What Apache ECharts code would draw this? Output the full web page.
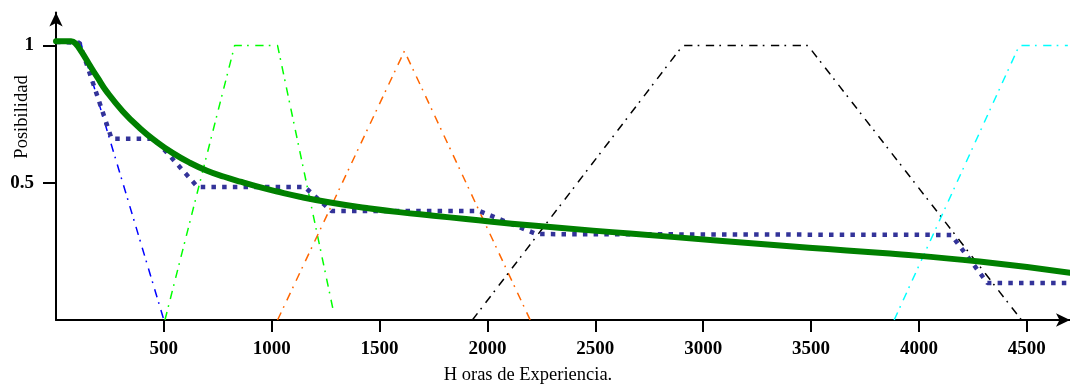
<!DOCTYPE html>
<html>
<head>
<meta charset="utf-8">
<script src="https://cdn.jsdelivr.net/npm/echarts@6/dist/echarts.min.js"></script>
<style>
html,body{margin:0;padding:0;background:#fff;}
#c{width:1070px;height:384px;}
</style>
</head>
<body>
<div id="c"></div>
<script>
// ---- data ----
const xTicks = [500, 1000, 1500, 2000, 2500, 3000, 3500, 4000, 4500];
const yTicks = [0.5, 1];
const xTitle = 'H oras de Experiencia.';
const yTitle = 'Posibilidad';

const blueMF   = [[0, 1.01], [115, 1.01], [500, 0]];
const greenMF  = [[505, 0], [828, 1], [1027, 1], [1285, 0.035]];
const orangeMF = [[1027, 0], [1615, 0.98], [2198, 0]];
const blackMF  = [[1930, 0], [2905, 1], [3485, 1], [4475, 0]];
const cyanMF   = [[3885, 0], [4465, 1], [4690, 1]];

const dottedStep = [[0, 1.013], [109, 1.01], [258, 0.66], [457, 0.66], [656, 0.485], [1152, 0.485],
  [1277, 0.397], [1963, 0.397], [2227, 0.313], [4150, 0.31], [4317, 0.135], [4700, 0.135]];

const fittedCurve = [[0, 1.016], [70, 1.016], [90, 1.008], [120, 0.975], [155, 0.93], [195, 0.88],
  [235, 0.832], [310, 0.76], [390, 0.698], [465, 0.65], [540, 0.609], [620, 0.573], [700, 0.544],
  [780, 0.522], [860, 0.503], [940, 0.485], [1020, 0.469], [1130, 0.449], [1285, 0.426],
  [1440, 0.408], [1590, 0.393], [1750, 0.38], [1900, 0.368], [2210, 0.344], [2660, 0.315],
  [3075, 0.289], [3490, 0.263], [3865, 0.242], [4280, 0.213], [4700, 0.172]];

// ---- chart ----
const FONT = 'Liberation Serif, Times New Roman, serif';
const dashDot = [8.3, 5.2, 1.7, 6.5];

function mf(data, color) {
  return {
    type: 'line', data: data, showSymbol: false, symbol: 'none', silent: true,
    lineStyle: { color: color, width: 1.5, type: dashDot },
    z: 2
  };
}

const chart = echarts.init(document.getElementById('c'), null, { renderer: 'canvas' });
const option = {
  animation: false,
  backgroundColor: '#fff',
  grid: { left: 56, right: 0, top: 12.6, bottom: 64 },
  xAxis: {
    type: 'value', min: 0, max: 4700,
    axisLine: { show: true, onZero: false, symbol: ['none', 'arrow'], symbolSize: [10, 14],
      lineStyle: { color: '#000', width: 2 } },
    axisTick: { show: true, customValues: xTicks, length: 12, inside: false,
      lineStyle: { color: '#000', width: 2 } },
    axisLabel: { customValues: xTicks, margin: 20, fontFamily: FONT, fontWeight: 'bold',
      fontSize: 19, color: '#000', formatter: v => String(v) },
    splitLine: { show: false }
  },
  yAxis: {
    type: 'value', min: 0, max: 1.12,
    axisLine: { show: true, symbol: ['none', 'arrow'], symbolSize: [10, 14],
      lineStyle: { color: '#000', width: 2 } },
    axisTick: { show: true, customValues: yTicks, length: 13, inside: false,
      lineStyle: { color: '#000', width: 2 } },
    axisLabel: { customValues: yTicks, margin: 22, fontFamily: FONT, fontWeight: 'bold',
      fontSize: 19, color: '#000', formatter: v => String(v) },
    splitLine: { show: false }
  },
  graphic: [
    { type: 'text', x: 22, y: 117, rotation: Math.PI / 2,
      style: { text: yTitle, font: 'normal 18.5px ' + FONT, fill: '#000',
        textAlign: 'center', textVerticalAlign: 'middle' } },
    { type: 'text', x: 528, y: 375,
      style: { text: xTitle, font: 'normal 18.5px ' + FONT, fill: '#000',
        textAlign: 'center', textVerticalAlign: 'middle' } }
  ],
  series: [
    mf(blueMF, '#0000ff'),
    mf(greenMF, '#00ff00'),
    mf(orangeMF, '#ff6600'),
    mf(blackMF, '#000000'),
    mf(cyanMF, '#00ffff'),
    {
      type: 'line', data: dottedStep, showSymbol: false, symbol: 'none', silent: true, z: 3,
      lineStyle: { color: '#333399', width: 4.5, type: [4.5, 6.2], cap: 'butt' }
    },
    {
      type: 'line', data: fittedCurve, showSymbol: false, symbol: 'none', silent: true, z: 4,
      smooth: 0.5,
      lineStyle: { color: '#008000', width: 6, join: 'round', cap: 'round' }
    }
  ]
};
chart.setOption(option);
</script>
</body>
</html>
